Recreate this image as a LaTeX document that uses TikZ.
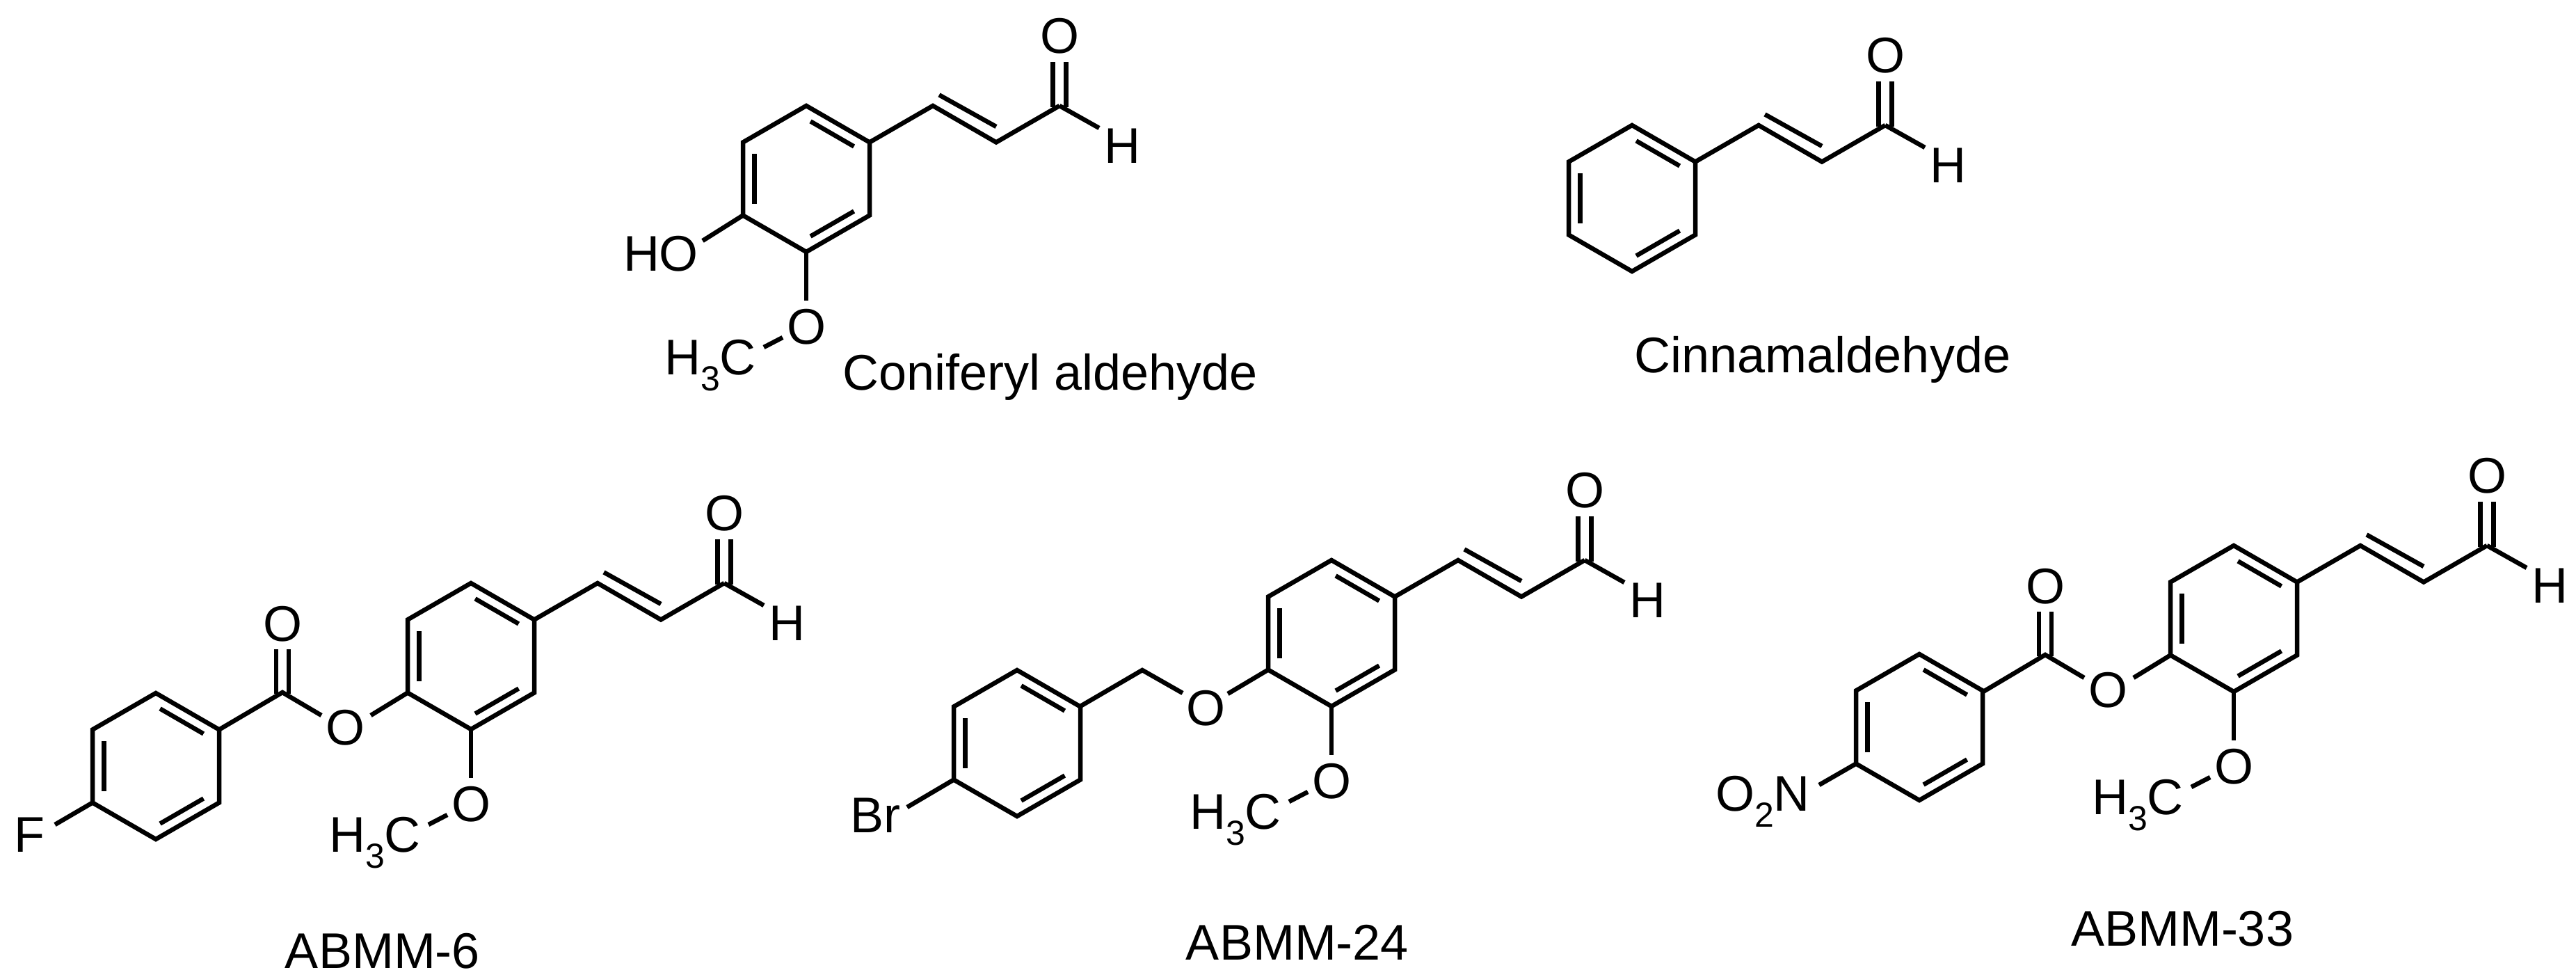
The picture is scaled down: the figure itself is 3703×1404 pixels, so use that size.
\documentclass[tikz,border=0pt]{standalone}
\usepackage{fontspec}
\setmainfont{Liberation Sans}
\tikzset{bond/.style={line width=6.5pt,line join=miter},
 lab/.style={inner sep=0pt,font=\fontsize{72}{78}\selectfont}}
\newcommand\sub[1]{\raisebox{-0.32em}{\fontsize{50}{50}\selectfont #1}}
\newcommand\benz[1]{%
 \begin{scope}[shift={#1}]
 \draw[bond] (0,-105)--(91,-52.5)--(91,52.5)--(0,105)--(-91,52.5)--(-91,-52.5)--cycle;
 \draw[bond,shorten <=7pt,shorten >=7pt] (0,-86.1)--(74.6,-43.05);
 \draw[bond,shorten <=7pt,shorten >=7pt] (74.6,43.05)--(0,86.1);
 \draw[bond,shorten <=7pt,shorten >=7pt] (-74.6,43.05)--(-74.6,-43.05);
 \end{scope}}
\newcommand\core[1]{%
 \benz{#1}
 \begin{scope}[shift={#1}]
 \coordinate (c1) at (182,-105); \coordinate (c2) at (273,-52.5); \coordinate (c3) at (364,-105);
 \draw[bond] (91,-52.5)--(c1)--(c2)--(c3);
 \draw[bond] (191,-120.6)--(273,-75);
 \draw[bond] (c3)--(421,-73);
 \draw[bond] (354.5,-103)--(354.5,-168) (373.5,-103)--(373.5,-168);
 \node[lab] (oald) at (364,-205) {O};
 \node[lab] (hald) at (454,-47) {H};
 \end{scope}}
\newcommand\meo[1]{%
 \begin{scope}[shift={#1}]
 \draw[bond] (0,105)--(0,175);
 \draw[bond] (-34,228)--(-61,242);
 \node[lab] (ome) at (0,213) {O};
 \node[lab] (me) at (-138,268) {H\sub{3}C};
 \end{scope}}
\begin{document}
\begin{tikzpicture}[x=1pt,y=-1pt]
\useasboundingbox (0,0) rectangle (3703,1404);
% Coniferyl aldehyde
\core{(1159,257)}
\meo{(1159,257)}
\begin{scope}[shift={(1159,257)}]
 \draw[bond] (-91,52.5)--(-149,89);
 \node[lab] (ho) at (-209,108) {HO};
\end{scope}
\node[lab] (l1) at (1510,542) {Coniferyl aldehyde};
% Cinnamaldehyde
\core{(2346,285)}
\node[lab] (l2) at (2620,517) {Cinnamaldehyde};
% ABMM-6
\core{(677,943)}
\meo{(677,943)}
\benz{(224,1101)}
\begin{scope}[shift={(677,943)}]
 \draw[bond] (-91,52.5)--(-144,85);
 \node[lab] (oe) at (-181,103) {O};
 \draw[bond] (-215,85)--(-271,52)--(-362,105.5);
 \draw[bond] (-280,54)--(-280,-10) (-262,54)--(-262,-10);
 \node[lab] (oc) at (-271,-46) {O};
 \draw[bond] (-544,210.5)--(-598,242);
 \node[lab] (f) at (-635,257) {F};
\end{scope}
\node[lab] (l3) at (550,1367) {ABMM-6};
% ABMM-24
\core{(1914,910)}
\meo{(1914,910)}
\benz{(1462,1068)}
\begin{scope}[shift={(1914,910)}]
 \draw[bond] (-91,52.5)--(-149,87);
 \node[lab] (oe2) at (-181,108) {O};
 \draw[bond] (-214,86)--(-272,53)--(-362,105.5);
 \draw[bond] (-543,210.5)--(-610,250);
 \node[lab] (br) at (-656,262) {Br};
\end{scope}
\node[lab] (l4) at (1865,1354) {ABMM-24};
% ABMM-33
\core{(3211,889)}
\meo{(3211,889)}
\benz{(2759,1045)}
\begin{scope}[shift={(3211,889)}]
 \draw[bond] (-91,52.5)--(-144,85);
 \node[lab] (oe3) at (-181,103) {O};
 \draw[bond] (-215,85)--(-271,52)--(-361,105.5);
 \draw[bond] (-280,54)--(-280,-10) (-262,54)--(-262,-10);
 \node[lab] (oc3) at (-271,-46) {O};
 \draw[bond] (-543,208.5)--(-596,239);
 \node[lab,anchor=east] (no2) at (-609,263) {O\sub{2}N};
\end{scope}
\node[lab] (l5) at (3137,1335) {ABMM-33};
\end{tikzpicture}
\end{document}
